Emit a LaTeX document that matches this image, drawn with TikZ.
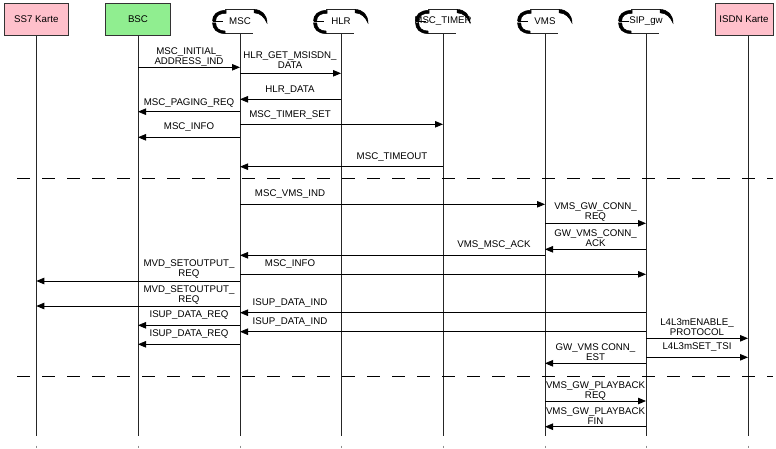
\documentclass[tikz,border=0pt]{standalone}
\usepackage{fontspec}
\setmainfont{Liberation Sans}
\usetikzlibrary{arrows.meta}
\definecolor{kartepink}{HTML}{FFC0CB}
\definecolor{bscgreen}{HTML}{90EE90}
\begin{document}
\begin{tikzpicture}[x=1pt,y=-1pt,
  font=\fontsize{9.7}{10.2}\selectfont,
  lifeline/.style={line width=0.9pt, black!85},
  msgline/.style={line width=0.8pt, -{Triangle[length=8pt,width=6.5pt]}},
  msglabel/.style={align=center, inner sep=0pt},
  actorbox/.style={draw=black!80, line width=0.9pt, minimum width=64.5pt,
    minimum height=32pt, inner sep=0pt},
  divider/.style={line width=0.8pt, dash pattern=on 12.5pt off 12.5pt},
  iconblob/.style={fill=black, draw=black, line width=0.5pt},
  iconline/.style={line width=0.9pt, black!85},
]
\useasboundingbox (0,0) rectangle (776,448);

% ---- actors drawn as plain boxes
\node[actorbox, fill=kartepink] (ss7) at (36.3,19.3) {SS7 Karte};
\node[actorbox, fill=bscgreen] (bsc) at (138,19.3) {BSC};
\node[actorbox, fill=kartepink, minimum width=58pt] (isdn) at (744,19.5) {ISDN Karte};
\coordinate (isdnL) at (748,35.5);

% ---- process actors with their icon
\foreach \n/\c/\t in {msc/240/MSC, hlr/341/HLR, tmr/443/MSC\_TIMER, vms/545/VMS, sip/646/SIP\_gw}{
  \node[inner sep=0pt] (\n) at (\c,21) {\t};
  \begin{scope}[shift={(\c,0)}]
    \draw[iconline] (-15,9.5) -- (15,9.5);
    \draw[iconline] (-15,33.3) -- (13,33.3);
    % left bracket, split in two halves
    \filldraw[iconblob] (-14,10.3) .. controls (-23,10.3) and (-27.5,15) .. (-27.5,20.8)
      -- (-24.3,20.8) .. controls (-24.3,16) and (-21,13.3) .. (-14,13.3) -- cycle;
    \filldraw[iconblob] (-27.5,22.8) .. controls (-27.5,29) and (-23,33.6) .. (-15,33.6)
      -- (-15,31) .. controls (-21,31) and (-24.3,28) .. (-24.3,22.8) -- cycle;
    \draw[line width=0.8pt] (-27.3,21.7) -- (-17,21.7);
    % right corner crescent
    \filldraw[iconblob] (14,9.5) .. controls (22,9.5) and (27,15) .. (27,23)
      .. controls (24.5,17.5) and (20.5,12.8) .. (14,12.8) -- cycle;
  \end{scope}
}

% ---- lifelines
\foreach \n in {msc,hlr,tmr,vms,sip}{
  \draw[lifeline] (\n |- 0,33.3) -- (\n |- 0,435.5);
  \draw[lifeline, black!45] (\n |- 0,445.5) -- (\n |- 0,447.5);
}
\foreach \n in {ss7,bsc}{
  \draw[lifeline] (\n.south) -- (\n |- 0,435.5);
  \draw[lifeline, black!45] (\n |- 0,445.5) -- (\n |- 0,447.5);
}
\draw[lifeline] (isdnL) -- (isdnL |- 0,435.5);
\draw[lifeline, black!45] (isdnL |- 0,445.5) -- (isdnL |- 0,447.5);

% ---- phase separators
\coordinate (sepA1) at (17,178.5);  \coordinate (sepA2) at (773,178.5);
\coordinate (sepB1) at (17,376);    \coordinate (sepB2) at (773,376);
\draw[divider] (sepA1) -- (sepA2);
\draw[divider] (sepB1) -- (sepB2);

% ---- messages
\draw[msgline] (bsc |- 0,67.3)  -- (msc |- 0,67.3);
\draw[msgline] (msc |- 0,73.3)  -- (hlr |- 0,73.3);
\draw[msgline] (hlr |- 0,99.3)  -- (msc |- 0,99.3);
\draw[msgline] (msc |- 0,111.7) -- (bsc |- 0,111.7);
\draw[msgline] (msc |- 0,124.3) -- (tmr |- 0,124.3);
\draw[msgline] (msc |- 0,137.3) -- (bsc |- 0,137.3);
\draw[msgline] (tmr |- 0,166.7) -- (msc |- 0,166.7);
\draw[msgline] (msc |- 0,204.3) -- (vms |- 0,204.3);
\draw[msgline] (vms |- 0,223.3) -- (sip |- 0,223.3);
\draw[msgline] (sip |- 0,249.3) -- (vms |- 0,249.3);
\draw[msgline] (vms |- 0,255.3) -- (msc |- 0,255.3);
\draw[msgline] (msc |- 0,274.3) -- (sip |- 0,274.3);
\draw[msgline] (msc |- 0,281)   -- (ss7 |- 0,281);
\draw[msgline] (msc |- 0,306)   -- (ss7 |- 0,306);
\draw[msgline] (sip |- 0,312.7) -- (msc |- 0,312.7);
\draw[msgline] (msc |- 0,325.3) -- (bsc |- 0,325.3);
\draw[msgline] (sip |- 0,331.7) -- (msc |- 0,331.7);
\draw[msgline] (msc |- 0,344.3) -- (bsc |- 0,344.3);
\draw[msgline] (sip |- 0,338.3) -- (isdnL |- 0,338.3);
\draw[msgline] (sip |- 0,357.3) -- (isdnL |- 0,357.3);
\draw[msgline] (sip |- 0,363.3) -- (vms |- 0,363.3);
\draw[msgline] (vms |- 0,401)   -- (sip |- 0,401);
\draw[msgline] (sip |- 0,426.7) -- (vms |- 0,426.7);

% ---- message labels
\node[msglabel] (l1)  at (189,57)    {MSC\_INITIAL\_\\ADDRESS\_IND};
\node[msglabel] (l2)  at (290,60)    {HLR\_GET\_MSISDN\_\\DATA};
\node[msglabel] (l3)  at (290,90)    {HLR\_DATA};
\node[msglabel] (l4)  at (189,102.7) {MSC\_PAGING\_REQ};
\node[msglabel] (l5)  at (290,114.7) {MSC\_TIMER\_SET};
\node[msglabel] (l6)  at (189,127.3) {MSC\_INFO};
\node[msglabel] (l7)  at (392,156.7) {MSC\_TIMEOUT};
\node[msglabel] (l8)  at (290,194.3) {MSC\_VMS\_IND};
\node[msglabel] (l9)  at (595.5,212.3) {VMS\_GW\_CONN\_\\REQ};
\node[msglabel] (l10) at (595.5,238.3) {GW\_VMS\_CONN\_\\ACK};
\node[msglabel] (l11) at (494,245.3) {VMS\_MSC\_ACK};
\node[msglabel] (l12) at (290,264.3) {MSC\_INFO};
\node[msglabel] (l13) at (189,269.3) {MVD\_SETOUTPUT\_\\REQ};
\node[msglabel] (l14) at (189,294.7) {MVD\_SETOUTPUT\_\\REQ};
\node[msglabel] (l15) at (290,302.7) {ISUP\_DATA\_IND};
\node[msglabel] (l16) at (189,315.3) {ISUP\_DATA\_REQ};
\node[msglabel] (l17) at (290,321.7) {ISUP\_DATA\_IND};
\node[msglabel] (l18) at (189,334.3) {ISUP\_DATA\_REQ};
\node[msglabel] (l19) at (697,327)   {L4L3mENABLE\_\\PROTOCOL};
\node[msglabel] (l20) at (697,347.3) {L4L3mSET\_TSI};
\node[msglabel] (l21) at (595.5,352.5) {GW\_VMS CONN\_\\EST};
\node[msglabel] (l22) at (595.5,391) {VMS\_GW\_PLAYBACK\\REQ};
\node[msglabel] (l23) at (595.5,416.2) {VMS\_GW\_PLAYBACK\\FIN};
\end{tikzpicture}
\end{document}
